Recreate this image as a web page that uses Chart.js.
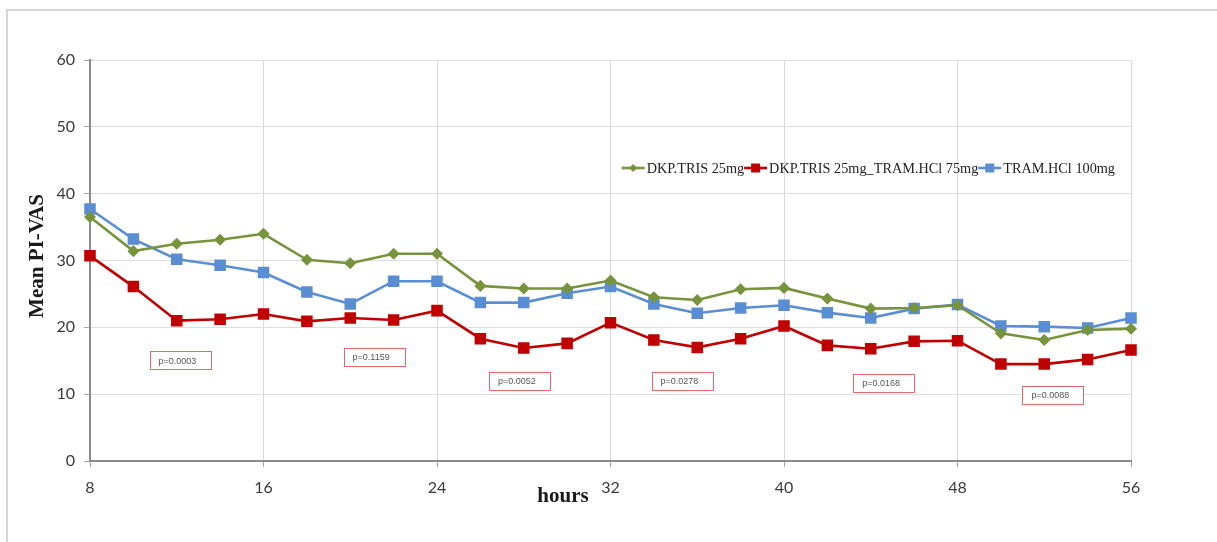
<!DOCTYPE html>
<html>
<head>
<meta charset="utf-8">
<script src="https://cdn.jsdelivr.net/npm/chart.js@4"></script>
<style>
  html, body { margin: 0; padding: 0; background: #fff; }
  #wrap { width: 1217px; height: 542px; position: relative; }
</style>
</head>
<body>
<div id="wrap"><canvas id="chart"></canvas></div>
<script>

// hours after dosing
const hours = [8, 10, 12, 14, 16, 18, 20, 22, 24, 26, 28, 30, 32, 34, 36, 38, 40, 42, 44, 46, 48, 50, 52, 54, 56];

// mean PI-VAS per treatment group
const dkpTris = [36.5, 31.4, 32.5, 33.1, 34.0, 30.1, 29.6, 31.0, 31.0, 26.2, 25.8, 25.8, 27.0, 24.5, 24.1, 25.7, 25.9, 24.3, 22.8, 22.9, 23.3, 19.1, 18.1, 19.6, 19.8];
const dkpTram = [30.7, 26.1, 21.0, 21.2, 22.0, 20.9, 21.4, 21.1, 22.5, 18.3, 16.9, 17.6, 20.7, 18.1, 17.0, 18.3, 20.2, 17.3, 16.8, 17.9, 18.0, 14.5, 14.5, 15.2, 16.6];
const tram100 = [37.7, 33.2, 30.2, 29.3, 28.2, 25.3, 23.5, 26.9, 26.9, 23.7, 23.7, 25.1, 26.1, 23.5, 22.1, 22.9, 23.3, 22.2, 21.4, 22.8, 23.4, 20.2, 20.1, 19.9, 21.4];

const seriesNames = ['DKP.TRIS 25mg', 'DKP.TRIS 25mg_TRAM.HCl 75mg', 'TRAM.HCl 100mg'];

// p-values written under each 8 h interval
const pValues = ['p=0.0003', 'p=0.1159', 'p=0.0052', 'p=0.0278', 'p=0.0168', 'p=0.0088'];
// where each p-value box sits, in axis units (hours, PI-VAS)
const pBoxAt = [[12.15, 15.1], [21.1, 15.6], [27.8, 12.0], [35.3, 12.0], [44.6, 11.7], [52.4, 9.9]];

const yTicks = [0, 10, 20, 30, 40, 50, 60];
const xTicks = [8, 16, 24, 32, 40, 48, 56];

const colors = ['#77933C', '#C00000', '#5A8ED4'];
const markers = ['rectRot', 'rect', 'rect'];
const markerSize = [4.2, 6.3, 6.3];

function points(vals) {
    return hours.map((h, i) => ({ x: h, y: vals[i] }));
}

const datasets = [dkpTris, dkpTram, tram100].map((vals, i) => ({
    label: seriesNames[i],
    data: points(vals),
    borderColor: colors[i],
    backgroundColor: colors[i],
    pointBackgroundColor: colors[i],
    pointBorderColor: colors[i],
    pointStyle: markers[i],
    pointRadius: markerSize[i],
    borderWidth: 2.6,
    tension: 0,
    clip: false
}));

// frame, axis titles, legend and p-value boxes
const extras = {
    id: 'extras',
    beforeDraw(chart) {
        const ctx = chart.ctx;
        ctx.save();
        ctx.fillStyle = '#fff';
        ctx.fillRect(0, 0, chart.width, chart.height);
        ctx.strokeStyle = '#d6d6d6';
        ctx.lineWidth = 2;
        ctx.beginPath();
        ctx.moveTo(7, 542);
        ctx.lineTo(7, 10);
        ctx.lineTo(1217, 10);
        ctx.stroke();
        ctx.restore();
    },
    afterDraw(chart) {
        const ctx = chart.ctx;
        const xs = chart.scales.x, ys = chart.scales.y;
        ctx.save();

        // axis titles
        ctx.fillStyle = '#1a1a1a';
        ctx.font = 'bold 21px "Liberation Serif"';
        ctx.textAlign = 'center';
        ctx.textBaseline = 'middle';
        ctx.fillText('hours', 563, 497);
        ctx.save();
        ctx.translate(38, 256);
        ctx.rotate(-Math.PI / 2);
        ctx.fillText('Mean PI-VAS', 0, 0);
        ctx.restore();

        // p-value boxes
        ctx.font = '9px "Liberation Sans"';
        ctx.textAlign = 'left';
        pValues.forEach((txt, i) => {
            const cx = xs.getPixelForValue(pBoxAt[i][0]);
            const cy = ys.getPixelForValue(pBoxAt[i][1]);
            const w = 61, h = 18;
            ctx.fillStyle = '#fff';
            ctx.fillRect(cx - w / 2, cy - h / 2, w, h);
            ctx.strokeStyle = '#e46868';
            ctx.lineWidth = 1;
            ctx.strokeRect(Math.round(cx - w / 2) + 0.5, Math.round(cy - h / 2) + 0.5, w, h);
            ctx.fillStyle = '#555';
            ctx.fillText(txt, cx - w / 2 + 9, cy + 1);
        });

        // legend, right aligned inside the plot; the serif text is set a little narrow
        const squeeze = 0.92;
        ctx.font = '15.5px "Liberation Serif"';
        const seg = 23, gap = 2;
        const widths = seriesNames.map(n => ctx.measureText(n).width * squeeze);
        const total = widths.reduce((a, b) => a + b, 0) + seriesNames.length * (seg + gap);
        let lx = 1115 - total;
        const ly = 168;
        seriesNames.forEach((name, i) => {
            ctx.strokeStyle = colors[i];
            ctx.lineWidth = 2.6;
            ctx.beginPath();
            ctx.moveTo(lx, ly);
            ctx.lineTo(lx + seg, ly);
            ctx.stroke();
            ctx.fillStyle = colors[i];
            const cx = lx + seg / 2;
            if (markers[i] === 'rectRot') {
                ctx.beginPath();
                ctx.moveTo(cx, ly - 4);
                ctx.lineTo(cx + 4, ly);
                ctx.lineTo(cx, ly + 4);
                ctx.lineTo(cx - 4, ly);
                ctx.closePath();
                ctx.fill();
            } else {
                ctx.fillRect(cx - 4.5, ly - 4.5, 9, 9);
            }
            ctx.fillStyle = '#222';
            ctx.textAlign = 'left';
            ctx.save();
            ctx.translate(lx + seg + gap, ly + 1);
            ctx.scale(squeeze, 1);
            ctx.fillText(name, 0, 0);
            ctx.restore();
            lx += seg + gap + widths[i];
        });
        ctx.restore();
    }
};

new Chart(document.getElementById('chart'), {
    type: 'line',
    data: { datasets: datasets },
    plugins: [extras],
    options: {
        responsive: true,
        maintainAspectRatio: false,
        animation: false,
        layout: {
            padding: { left: 0, right: 86, top: 60, bottom: 0 }
        },
        plugins: {
            legend: { display: false },
            tooltip: { enabled: false }
        },
        scales: {
            x: {
                type: 'linear',
                min: 8,
                max: 56,
                afterFit: s => { s.height = 81; },
                afterBuildTicks: s => { s.ticks = xTicks.map(v => ({ value: v })); },
                ticks: {
                    color: '#3a3a3a',
                    padding: 11,
                    font: { family: 'Lato', size: 16 }
                },
                grid: {
                    color: '#d9d9d9',
                    lineWidth: 1,
                    tickLength: 6,
                    tickColor: '#a6a6a6'
                },
                border: { display: true, color: '#8c8c8c', width: 2 }
            },
            y: {
                min: 0,
                max: 60,
                afterFit: s => { s.width = 90; },
                afterBuildTicks: s => { s.ticks = yTicks.map(v => ({ value: v })); },
                ticks: {
                    color: '#3a3a3a',
                    padding: 9,
                    font: { family: 'Lato', size: 16 }
                },
                grid: {
                    color: '#dedede',
                    lineWidth: 1,
                    tickLength: 6,
                    tickColor: '#a6a6a6'
                },
                border: { display: true, color: '#8c8c8c', width: 2 }
            }
        }
    }
});
</script>
</body>
</html>
